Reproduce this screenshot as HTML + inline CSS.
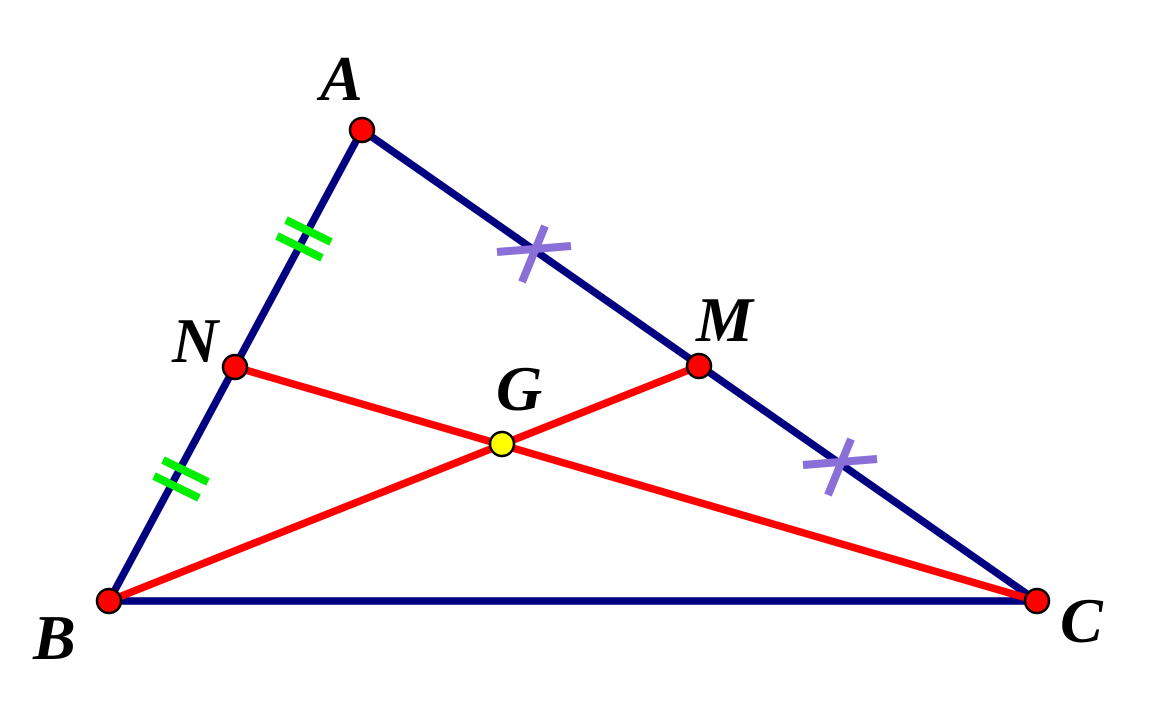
<!DOCTYPE html>
<html><head><style>html,body{margin:0;padding:0;background:#fff}svg{display:block}</style></head>
<body>
<svg width="1150" height="709" viewBox="0 0 1150 709" xmlns="http://www.w3.org/2000/svg">
<g stroke="#000080" stroke-width="7.5" fill="none">
<line x1="362" y1="130" x2="109" y2="601"/>
<line x1="362" y1="130" x2="1037" y2="601"/>
<line x1="109" y1="601" x2="1037" y2="601"/>
</g>
<g stroke="#ff0000" stroke-width="7.5">
<line x1="235" y1="367" x2="1037" y2="601"/>
<line x1="109" y1="601" x2="699" y2="366"/>
</g>
<g stroke="#00ee00" stroke-width="8">
<line x1="286" y1="220" x2="331" y2="242"/>
<line x1="277" y1="236" x2="322" y2="258"/>
<line x1="163" y1="460" x2="208" y2="482"/>
<line x1="154" y1="476" x2="199" y2="498"/>
</g>
<g stroke="#8a6fd8" stroke-width="8">
<line x1="497" y1="252" x2="571" y2="246"/>
<line x1="545" y1="226" x2="522" y2="282"/>
<line x1="803" y1="465" x2="877" y2="459"/>
<line x1="851" y1="439" x2="828" y2="495"/>
</g>
<g stroke="#000" stroke-width="2.5" fill="#ff0000">
<circle cx="362" cy="130" r="12"/>
<circle cx="109" cy="601" r="12"/>
<circle cx="1037" cy="601" r="12"/>
<circle cx="235" cy="367" r="12"/>
<circle cx="699" cy="366" r="12"/>
<circle cx="502" cy="444" r="12" fill="#ffff00"/>
</g>
<g font-family="Liberation Serif, serif" font-weight="bold" font-style="italic" font-size="64" fill="#000">
<text x="320" y="100">A</text>
<text x="172" y="362">N</text>
<text x="696" y="341">M</text>
<text x="496" y="410">G</text>
<text x="33" y="659">B</text>
<text x="1060" y="642">C</text>
</g>
</svg>
</body></html>
